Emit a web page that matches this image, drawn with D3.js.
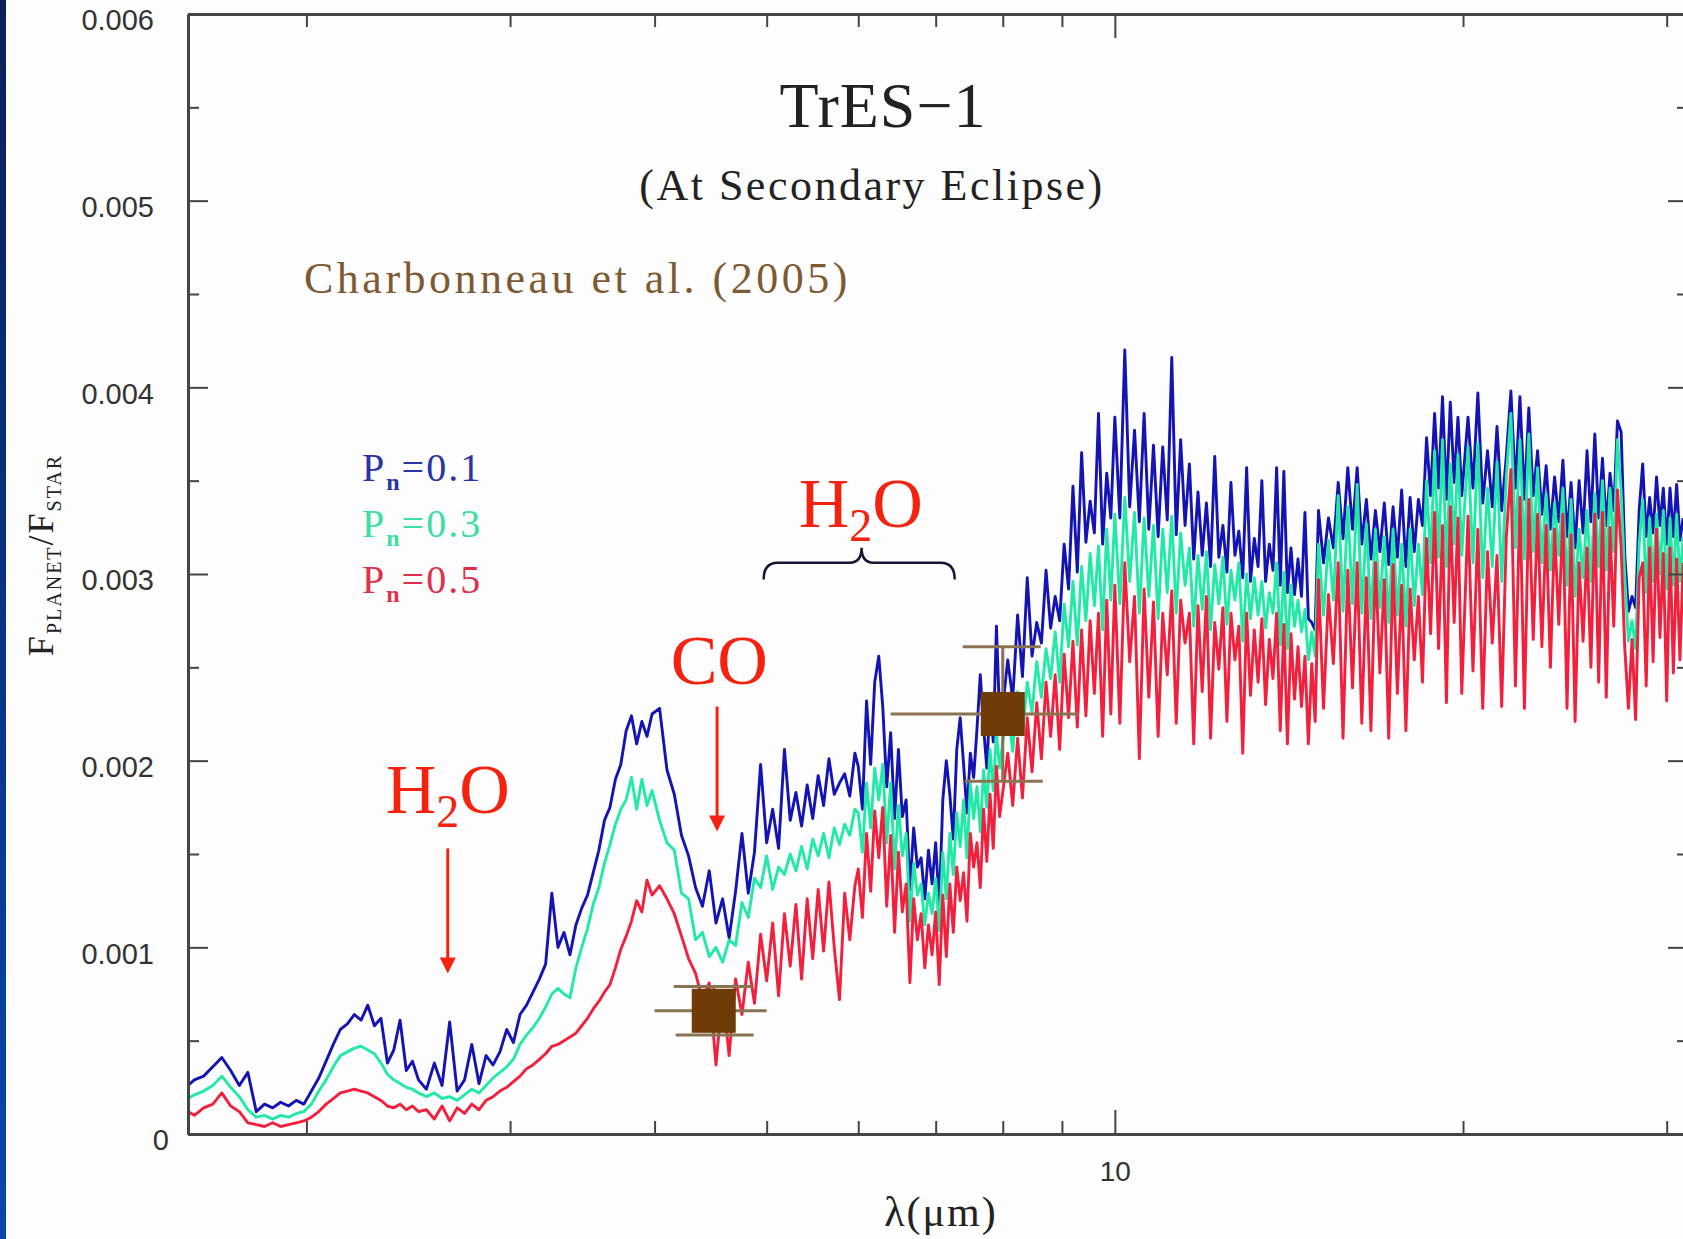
<!DOCTYPE html>
<html>
<head>
<meta charset="utf-8">
<script src="https://cdnjs.cloudflare.com/ajax/libs/d3/7.8.5/d3.min.js"></script>
<style>
  html, body { margin: 0; padding: 0; background: #fdfdfd; }
  svg { display: block; }
</style>
</head>
<body>
<div id="chart"></div>
<script>
// Model spectra, TrES-1 at secondary eclipse (flux ratio in units of 1e-4)
const wavelength = [
  // 1.58 - 2.50
  1.58, 1.60, 1.63, 1.66, 1.69, 1.72, 1.75, 1.78, 1.81, 1.84, 1.87, 1.90, 1.93, 1.96, 1.99, 2.02,
  2.05, 2.08, 2.11, 2.14, 2.17, 2.20, 2.23, 2.26, 2.29, 2.32, 2.35, 2.38, 2.41, 2.44, 2.47, 2.50,
  // 2.54 - 3.98
  2.54, 2.58, 2.62, 2.66, 2.70, 2.74, 2.78, 2.82, 2.86, 2.90, 2.94, 2.98, 3.02, 3.06, 3.10, 3.14,
  3.18, 3.22, 3.26, 3.30, 3.34, 3.38, 3.42, 3.46, 3.50, 3.54, 3.58, 3.62, 3.66, 3.70, 3.74, 3.78,
  3.82, 3.86, 3.90, 3.94, 3.98,
  // 4.04 - 5.96
  4.04, 4.10, 4.16, 4.22, 4.28, 4.34, 4.40, 4.46, 4.52, 4.58, 4.64, 4.70, 4.76, 4.82, 4.88, 4.94,
  5.00, 5.06, 5.12, 5.18, 5.24, 5.30, 5.36, 5.42, 5.48, 5.54, 5.60, 5.66, 5.72, 5.78, 5.84, 5.90, 5.96,
  // 6.00 - 7.95
  6.00, 6.05, 6.10, 6.15, 6.20, 6.25, 6.30, 6.35, 6.40, 6.45,
  6.50, 6.55, 6.60, 6.65, 6.70, 6.75, 6.80, 6.85, 6.90, 6.95,
  7.00, 7.05, 7.10, 7.15, 7.20, 7.25, 7.30, 7.35, 7.40, 7.45,
  7.50, 7.55, 7.60, 7.65, 7.70, 7.75, 7.80, 7.85, 7.90, 7.95,
  // 8.00 - 9.92
  8.00, 8.08, 8.16, 8.24, 8.32, 8.40, 8.48, 8.56, 8.64, 8.72,
  8.80, 8.88, 8.96, 9.04, 9.12, 9.20, 9.28, 9.36, 9.44, 9.52,
  9.60, 9.68, 9.76, 9.84, 9.92,
  // 10.0 - 14.9
  10.0, 10.1, 10.2, 10.3, 10.4, 10.5, 10.6, 10.7, 10.8, 10.9,
  11.0, 11.1, 11.2, 11.3, 11.4, 11.5, 11.6, 11.7, 11.8, 11.9,
  12.0, 12.1, 12.2, 12.3, 12.4, 12.5, 12.6, 12.7, 12.8, 12.9,
  13.0, 13.1, 13.2, 13.3, 13.4, 13.5, 13.6, 13.7, 13.8, 13.9,
  14.0, 14.1, 14.2, 14.3, 14.4, 14.5, 14.6, 14.7, 14.8, 14.9,
  // 15.0 - 19.95
  15.00, 15.15, 15.30, 15.45, 15.60, 15.75, 15.90, 16.05, 16.20, 16.35,
  16.50, 16.65, 16.80, 16.95, 17.10, 17.25, 17.40, 17.55, 17.70, 17.85,
  18.00, 18.15, 18.30, 18.45, 18.60, 18.75, 18.90, 19.05, 19.20, 19.35,
  19.50, 19.65, 19.80, 19.95,
  // 20.2 - 31.0
  20.2, 20.4, 20.6, 20.8, 21.0, 21.2, 21.4, 21.6, 21.8, 22.0,
  22.2, 22.4, 22.6, 22.8, 23.0, 23.2, 23.4, 23.6, 23.8, 24.0,
  24.2, 24.4, 24.6, 24.8, 25.0, 25.2, 25.4, 25.6, 25.8, 26.0,
  26.2, 26.4, 26.6, 26.8, 27.0, 27.2, 27.4, 27.6, 27.8, 28.0,
  28.2, 28.4, 28.6, 28.8, 29.0, 29.2, 29.4, 29.6, 29.8, 30.0,
  30.2, 30.4, 30.6, 30.8, 31.0
];

const fluxPn01 = [
  2.6, 2.9, 3.1, 3.6, 4.1, 3.4, 2.6, 3.3, 1.2, 1.6, 1.4, 1.7, 1.5, 1.8, 1.6, 2.3,
  3.0, 3.9, 4.8, 5.6, 5.9, 6.4, 6.1, 6.9, 5.8, 6.2, 3.8, 4.5, 6.1, 3.4, 3.9, 2.9,
  2.4, 3.8, 2.6, 6.0, 2.3, 2.9, 4.8, 2.7, 4.2, 3.7, 4.4, 5.6, 4.9, 6.4, 6.9, 7.6,
  8.3, 9.1, 12.9, 10.0, 10.8, 9.6, 11.2, 12.1, 12.8, 14.0, 15.2, 16.8, 17.5, 19.0, 19.8, 21.6,
  22.4, 20.9, 22.1, 21.3, 22.5,
  22.8, 19.5, 18.2, 16.0, 14.9, 13.2, 12.2, 14.1, 11.3, 12.6, 10.5, 13.0, 16.1, 12.9, 15.1, 19.8,
  15.6, 17.4, 15.3, 20.6, 16.8, 18.3, 16.5, 18.7, 16.9, 19.2, 17.6, 20.1, 18.2, 18.8, 19.3, 18.1, 20.4,
  19.7, 17.4, 23.2, 19.8, 24.2, 25.6, 22.9, 18.6, 21.5, 16.9,
  20.6, 17.0, 17.9, 13.1, 16.4, 14.3, 14.8, 12.6, 15.2, 13.4,
  15.6, 12.2, 17.9, 20.0, 18.2, 15.8, 20.6, 22.3, 19.8, 17.2,
  20.4, 19.1, 21.7, 24.6, 21.8, 19.6, 23.2, 21.0, 27.2, 22.4,
  22.9, 25.4, 23.3, 27.8, 24.5, 29.8, 25.6, 27.4, 26.3, 30.2,
  27.1, 28.8, 27.5, 31.6, 29.2, 34.7, 30.1, 36.5, 31.7, 33.9,
  32.2, 38.6, 31.6, 35.4, 33.0,
  38.4, 33.0, 42.0, 33.6, 37.7, 32.8, 38.6, 32.4, 36.9, 32.0,
  36.8, 32.9, 41.6, 32.1, 37.2, 32.6, 35.9, 30.8, 34.4, 31.0,
  33.8, 30.4, 36.3, 30.9, 32.6, 30.1, 34.9, 31.0, 32.3, 29.8,
  35.7, 29.6, 31.9, 30.4, 35.0, 29.6, 31.6, 30.2, 35.7, 29.4,
  35.5, 29.0, 31.4, 28.9, 30.8, 28.8, 33.3, 27.6, 27.4, 27.0,
  33.4, 30.6, 33.0, 31.4, 34.9, 31.9, 35.7, 32.4, 35.7, 31.6,
  34.0, 30.8, 33.4, 31.2, 33.8, 30.5, 33.6, 30.9, 34.5, 30.4,
  34.1, 31.2, 34.0, 32.6, 37.3, 34.2, 38.6, 34.6, 39.5, 34.0,
  39.2, 34.9, 38.4, 34.2,
  38.4, 34.6, 39.7, 33.8, 36.6, 33.6, 37.9, 33.4, 36.3, 39.8,
  34.6, 39.5, 34.0, 38.9, 34.2, 36.6, 33.2, 35.8, 32.4, 35.2,
  32.8, 36.1, 32.0, 34.9, 31.4, 35.0, 32.2, 36.6, 32.8, 37.5,
  33.0, 36.2, 32.6, 35.4, 33.4, 38.2, 37.6, 31.0, 28.0, 28.8,
  28.2, 33.4, 35.9, 32.0, 34.1, 32.2, 35.2, 32.6, 34.6, 31.6,
  34.6, 32.0, 34.8, 31.8, 33.0
];

const fluxPn03 = [
  1.9, 2.1, 2.3, 2.6, 3.1, 2.5, 2.0, 1.3, 0.9, 1.0, 0.8, 1.0, 0.9, 1.1, 1.2, 1.6,
  2.3, 2.9, 3.6, 4.2, 4.4, 4.6, 4.7, 4.5, 4.3, 3.8, 3.2, 2.9, 2.7, 2.5, 2.4, 2.2,
  2.0, 2.2, 1.9, 2.0, 1.8, 2.1, 2.4, 2.2, 2.6, 3.0, 3.3, 3.6, 4.0, 4.8, 5.3, 5.7,
  6.2, 6.8, 7.5, 7.8, 7.5, 7.3, 8.9, 10.0, 11.0, 12.3, 13.2, 14.5, 15.5, 16.6, 17.4, 17.9,
  19.1, 17.4, 19.0, 17.6, 18.4,
  16.8, 15.6, 15.2, 12.9, 12.6, 10.4, 10.8, 9.5, 10.0, 9.2, 10.4, 10.1, 12.4, 11.6, 13.7, 13.2,
  14.9, 13.1, 14.3, 13.9, 15.0, 14.1, 15.4, 14.2, 15.8, 14.9, 16.1, 14.8, 16.4, 15.5, 16.6, 16.0, 17.4,
  17.2, 15.1, 18.8, 16.4, 19.6, 17.9, 19.8, 15.6, 18.8, 14.2,
  17.6, 14.9, 16.1, 11.4, 14.5, 12.8, 13.4, 11.2, 12.9, 11.8,
  13.7, 10.9, 15.1, 12.6, 16.1, 13.9, 17.2, 15.4, 17.9, 14.8,
  18.8, 16.9, 18.6, 16.2, 19.5, 17.5, 20.6, 18.4, 21.5, 19.6,
  21.0, 22.8, 20.5, 23.7, 21.4, 24.2, 22.6, 25.3, 23.4, 26.0,
  24.4, 26.9, 24.2, 28.4, 26.1, 29.6, 26.2, 30.4, 27.5, 31.1,
  28.3, 31.5, 27.0, 32.4, 28.6,
  33.2, 28.4, 34.1, 29.6, 33.3, 27.9, 33.0, 28.8, 32.6, 27.6,
  32.4, 29.0, 33.1, 27.9, 32.2, 29.4, 31.4, 27.2, 31.0, 28.1,
  31.2, 27.0, 30.5, 28.4, 30.9, 27.3, 30.2, 28.6, 30.6, 26.4,
  30.0, 27.6, 29.8, 27.8, 29.6, 27.1, 29.0, 27.9, 30.6, 26.2,
  30.1, 26.0, 29.4, 27.2, 28.6, 26.9, 28.1, 25.4, 26.9, 25.6,
  31.6, 27.8, 31.8, 28.6, 34.2, 28.0, 33.6, 28.4, 34.8, 27.9,
  32.7, 27.6, 32.4, 28.2, 32.0, 27.4, 32.4, 27.8, 31.6, 27.2,
  32.4, 28.3, 31.6, 28.9, 35.0, 30.6, 36.6, 30.9, 37.2, 30.4,
  35.9, 31.6, 36.4, 31.0,
  36.8, 30.6, 37.0, 29.8, 34.6, 30.4, 36.0, 29.6, 35.2, 38.6,
  31.4, 37.2, 30.8, 37.5, 31.2, 35.7, 30.6, 34.3, 30.2, 33.8,
  31.0, 34.6, 29.4, 34.0, 28.8, 32.4, 29.8, 33.4, 29.6, 34.3,
  30.4, 35.0, 30.2, 34.6, 31.2, 37.2, 34.4, 29.8, 26.4, 27.5,
  26.0, 31.6, 34.0, 29.0, 33.0, 29.6, 33.2, 30.0, 33.4, 29.2,
  33.0, 29.4, 33.2, 29.6, 32.0
];

const fluxPn05 = [
  1.2, 1.0, 1.4, 1.6, 2.2, 1.5, 1.2, 0.6, 0.5, 0.4, 0.6, 0.4, 0.5, 0.6, 0.7, 0.9,
  1.2, 1.6, 1.9, 2.2, 2.3, 2.4, 2.3, 2.2, 2.0, 1.8, 1.5, 1.4, 1.6, 1.3, 1.5, 1.2,
  1.3, 0.8, 1.5, 0.7, 1.4, 1.1, 1.6, 1.3, 1.8, 2.0, 2.3, 2.5, 2.8, 3.1, 3.5, 3.7,
  4.0, 4.3, 4.7, 4.8, 5.0, 5.2, 5.4, 5.8, 6.2, 6.7, 7.1, 7.6, 8.0, 8.9, 9.9, 10.6,
  11.4, 12.5, 11.9, 13.6, 12.8,
  13.3, 12.6, 11.8, 10.6, 9.4, 8.6, 7.2, 8.1, 3.7, 7.6, 4.2, 8.3, 6.4, 9.2, 7.0, 10.7,
  8.2, 11.3, 7.4, 11.8, 9.0, 12.3, 8.3, 12.6, 9.4, 13.1, 9.8, 13.5, 10.0, 7.2, 12.9, 10.4, 13.3,
  14.2, 11.6, 16.1, 13.0, 17.3, 14.8, 17.5, 12.2, 16.0, 10.8,
  15.1, 11.9, 13.4, 8.1, 12.6, 10.4, 11.8, 8.9, 11.2, 9.6,
  11.9, 8.0, 12.8, 9.5, 13.4, 10.8, 14.3, 12.5, 14.0, 11.4,
  16.1, 14.3, 15.6, 13.2, 17.4, 14.6, 18.2, 15.3, 19.7, 17.0,
  18.3, 20.4, 17.6, 21.2, 18.0, 22.3, 19.4, 23.1, 20.1, 24.2,
  21.3, 24.6, 20.6, 25.7, 22.3, 26.4, 21.8, 27.0, 22.4, 27.5,
  23.6, 27.9, 21.3, 28.6, 22.5,
  29.4, 22.0, 30.6, 25.3, 28.8, 20.1, 29.2, 23.4, 28.5, 21.3,
  27.9, 24.6, 29.1, 22.0, 28.6, 26.3, 27.9, 20.9, 28.3, 23.7,
  28.8, 21.2, 27.4, 24.9, 28.2, 22.1, 27.9, 25.4, 27.2, 20.4,
  27.9, 23.5, 27.0, 24.2, 27.6, 23.0, 26.5, 24.4, 27.9, 21.6,
  27.3, 20.9, 26.8, 23.3, 26.1, 22.9, 25.6, 20.9, 25.2, 22.1,
  29.7, 22.8, 28.9, 25.2, 30.6, 21.2, 30.2, 23.9, 30.6, 22.0,
  29.8, 21.6, 30.6, 24.7, 29.7, 21.2, 30.5, 23.6, 29.4, 21.6,
  29.2, 25.4, 28.8, 24.2, 31.9, 26.8, 33.3, 26.0, 32.6, 23.1,
  33.6, 27.4, 33.0, 23.6,
  33.1, 24.8, 32.4, 22.8, 31.2, 26.3, 31.0, 22.9, 32.0, 35.6,
  24.0, 34.1, 22.8, 34.0, 26.5, 33.2, 26.1, 32.6, 25.0, 32.4,
  27.3, 33.2, 22.8, 32.1, 22.1, 30.6, 26.4, 31.4, 25.0, 33.2,
  24.2, 33.3, 23.4, 32.5, 27.2, 34.5, 31.4, 26.0, 22.8, 26.5,
  22.2, 29.8, 30.6, 24.0, 31.4, 25.3, 32.4, 26.6, 31.1, 23.2,
  31.4, 24.7, 30.8, 25.4, 30.6
];

const seriesLabels = ["0.1", "0.3", "0.5"];

// Spitzer IRAC eclipse depths, Charbonneau et al. (2005)
const obsWavelength = [4.5, 8.0];
const obsRatio = [6.6, 22.5];
const obsError = [1.3, 3.6];
const obsBandLow = [4.0, 6.4];
const obsBandHigh = [5.0, 9.3];

const yTickValues = [0, 10, 20, 30, 40, 50, 60];
const yTickLabels = ["0", "0.001", "0.002", "0.003", "0.004", "0.005", "0.006"];
const yMinorValues = [5, 15, 25, 35, 45, 55];
const xMinorValues = [2, 3, 4, 5, 6, 7, 8, 9, 20, 30];
const xMajorValues = [10];

// Chart dimensions
const width = 1683;
const height = 1239;

const x = d3.scaleLog().domain([1.58, 31.3]).range([188, 1688]);
const y = d3.scaleLinear().domain([0, 60]).range([1134, 14]);

const lineColors = ["#1414b4", "#22eaa6", "#f2203c"];
const legendColors = ["#2a34a4", "#3fdca4", "#e0304c"];
const annoRed = "#f4220e";
const serif = "'Liberation Serif', 'DejaVu Serif', serif";
const sans = "'Liberation Sans', Arial, sans-serif";

const svg = d3.select('#chart')
    .append('svg')
    .attr('width', width)
    .attr('height', height);

svg.append('rect')
    .attr('width', width)
    .attr('height', height)
    .attr('fill', '#fdfdfd');

// Blue slide edge on the left
const grad = svg.append('defs').append('linearGradient')
    .attr('id', 'edge')
    .attr('x1', 0).attr('y1', 0).attr('x2', 0).attr('y2', 1);
grad.append('stop').attr('offset', '0%').attr('stop-color', '#0b1f5a');
grad.append('stop').attr('offset', '100%').attr('stop-color', '#0847ae');
svg.append('rect')
    .attr('x', 0).attr('y', 0)
    .attr('width', 6).attr('height', height)
    .attr('fill', 'url(#edge)');

// Spectra: Pn=0.1 underneath, Pn=0.5 on top
const line = d3.line()
    .x(d => x(d.w))
    .y(d => y(d.v));

[fluxPn01, fluxPn03, fluxPn05].forEach((series, k) => {
    const pts = series.map((v, i) => ({ w: wavelength[i], v: v }));
    svg.append('path')
        .datum(pts)
        .attr('fill', 'none')
        .attr('stroke', lineColors[k])
        .attr('stroke-width', 2.9)
        .attr('stroke-linejoin', 'round')
        .attr('d', line);
});

// Axes (frame on all four sides, ticks pointing inward)
function styleAxis(g) {
    g.select('.domain').attr('stroke', '#444').attr('stroke-width', 2.8);
    g.selectAll('.tick line').attr('stroke', '#444').attr('stroke-width', 2);
}

const bottomMinor = svg.append('g')
    .attr('transform', `translate(0,${y(0)})`)
    .call(d3.axisBottom(x).tickValues(xMinorValues).tickSizeInner(-13).tickSizeOuter(0).tickFormat(''));
styleAxis(bottomMinor);

const bottomMajor = svg.append('g')
    .attr('transform', `translate(0,${y(0)})`)
    .call(d3.axisBottom(x).tickValues(xMajorValues).tickSizeInner(-24).tickSizeOuter(0)
        .tickPadding(27).tickFormat(d3.format('d')));
styleAxis(bottomMajor);
bottomMajor.selectAll('text')
    .attr('font-family', sans)
    .attr('font-size', 28)
    .attr('fill', '#333');

const topMinor = svg.append('g')
    .attr('transform', `translate(0,${y(60)})`)
    .call(d3.axisTop(x).tickValues(xMinorValues).tickSizeInner(-13).tickSizeOuter(0).tickFormat(''));
styleAxis(topMinor);
const topMajor = svg.append('g')
    .attr('transform', `translate(0,${y(60)})`)
    .call(d3.axisTop(x).tickValues(xMajorValues).tickSizeInner(-24).tickSizeOuter(0).tickFormat(''));
styleAxis(topMajor);

const leftMajor = svg.append('g')
    .attr('transform', `translate(${x.range()[0]},0)`)
    .call(d3.axisLeft(y).tickValues(yTickValues).tickSizeInner(-20).tickSizeOuter(0)
        .tickPadding(34).tickFormat((d, i) => yTickLabels[i]));
styleAxis(leftMajor);
leftMajor.selectAll('text')
    .attr('font-family', sans)
    .attr('font-size', 29)
    .attr('fill', '#333')
    .attr('dy', '0.55em');
// the zero label sits a little further right in the original
leftMajor.selectAll('text').filter(d => d === 0).attr('dx', 15);

const leftMinor = svg.append('g')
    .attr('transform', `translate(${x.range()[0]},0)`)
    .call(d3.axisLeft(y).tickValues(yMinorValues).tickSizeInner(-11).tickSizeOuter(0).tickFormat(''));
styleAxis(leftMinor);

const rightMajor = svg.append('g')
    .attr('transform', `translate(${x.range()[1]},0)`)
    .call(d3.axisRight(y).tickValues(yTickValues).tickSizeInner(-20).tickSizeOuter(0).tickFormat(''));
styleAxis(rightMajor);
const rightMinor = svg.append('g')
    .attr('transform', `translate(${x.range()[1]},0)`)
    .call(d3.axisRight(y).tickValues(yMinorValues).tickSizeInner(-11).tickSizeOuter(0).tickFormat(''));
styleAxis(rightMinor);

// Observed points with bandwidth and error bars
const obs = obsWavelength.map((w, i) => ({
    w: w, v: obsRatio[i], e: obsError[i], lo: obsBandLow[i], hi: obsBandHigh[i]
}));
const barColor = '#8a7350';
const obsG = svg.append('g');
obsG.selectAll('.band').data(obs).enter().append('line')
    .attr('x1', d => x(d.lo)).attr('x2', d => x(d.hi))
    .attr('y1', d => y(d.v)).attr('y2', d => y(d.v))
    .attr('stroke', barColor).attr('stroke-width', 3);
obsG.selectAll('.vbar').data(obs).enter().append('line')
    .attr('x1', d => x(d.w)).attr('x2', d => x(d.w))
    .attr('y1', d => y(d.v + d.e)).attr('y2', d => y(d.v - d.e))
    .attr('stroke', barColor).attr('stroke-width', 3);
obsG.selectAll('.capHi').data(obs).enter().append('line')
    .attr('x1', d => x(d.w) - 40).attr('x2', d => x(d.w) + 38)
    .attr('y1', d => y(d.v + d.e)).attr('y2', d => y(d.v + d.e))
    .attr('stroke', barColor).attr('stroke-width', 3);
obsG.selectAll('.capLo').data(obs).enter().append('line')
    .attr('x1', d => x(d.w) - 38).attr('x2', d => x(d.w) + 40)
    .attr('y1', d => y(d.v - d.e)).attr('y2', d => y(d.v - d.e))
    .attr('stroke', barColor).attr('stroke-width', 3);
obsG.selectAll('rect').data(obs).enter().append('rect')
    .attr('x', d => x(d.w) - 22).attr('y', d => y(d.v) - 22)
    .attr('width', 44).attr('height', 44)
    .attr('fill', '#6f3c08');

// Titles
svg.append('text')
    .attr('x', 883).attr('y', 127)
    .attr('text-anchor', 'middle')
    .attr('font-family', serif).attr('font-size', 64)
    .attr('letter-spacing', 1)
    .attr('fill', '#222')
    .text('TrES\u22121');

svg.append('text')
    .attr('x', 872).attr('y', 200)
    .attr('text-anchor', 'middle')
    .attr('font-family', serif).attr('font-size', 44)
    .attr('letter-spacing', 2.5)
    .attr('fill', '#222')
    .text('(At Secondary Eclipse)');

svg.append('text')
    .attr('x', 304).attr('y', 293)
    .attr('font-family', serif).attr('font-size', 44)
    .attr('letter-spacing', 3.5)
    .attr('fill', '#7d5a33')
    .text('Charbonneau et al. (2005)');

// Legend
seriesLabels.forEach((lab, k) => {
    const t = svg.append('text')
        .attr('x', 362).attr('y', 481 + k * 56)
        .attr('font-family', serif).attr('font-size', 40)
        .attr('letter-spacing', 2)
        .attr('fill', legendColors[k]);
    t.append('tspan').text('P');
    t.append('tspan').attr('font-size', 24).attr('font-weight', 'bold').attr('dy', 9).text('n');
    t.append('tspan').attr('dy', -9).text('=' + lab);
});

// Axis titles
const yLab = svg.append('text')
    .attr('transform', 'translate(53,555) rotate(-90)')
    .attr('text-anchor', 'middle')
    .attr('font-family', serif).attr('font-size', 36)
    .attr('letter-spacing', 2)
    .attr('fill', '#222');
yLab.append('tspan').text('F');
yLab.append('tspan').attr('font-size', 20).attr('dy', 8).text('PLANET');
yLab.append('tspan').attr('dy', -8).text('/F');
yLab.append('tspan').attr('font-size', 20).attr('dy', 8).text('STAR');

svg.append('text')
    .attr('x', 941).attr('y', 1226)
    .attr('text-anchor', 'middle')
    .attr('font-family', serif).attr('font-size', 42)
    .attr('letter-spacing', 2)
    .attr('fill', '#222')
    .text('\u03bb(\u03bcm)');

// Molecular band annotations
function molecule(w, v, parts) {
    const t = svg.append('text')
        .attr('x', x(w)).attr('y', y(v))
        .attr('text-anchor', 'middle')
        .attr('font-family', serif).attr('font-size', 70)
        .attr('fill', annoRed);
    parts.forEach(p => {
        const s = t.append('tspan').text(p.t);
        if (p.sub) s.attr('font-size', 46).attr('dy', 14);
        if (p.up) s.attr('dy', -14);
    });
}
molecule(2.65, 17.2, [{ t: 'H' }, { t: '2', sub: true }, { t: 'O', up: true }]);
molecule(4.55, 24.1, [{ t: 'CO' }]);
molecule(6.03, 32.5, [{ t: 'H' }, { t: '2', sub: true }, { t: 'O', up: true }]);

function arrow(w, vFrom, vTo) {
    const ax = x(w);
    svg.append('line')
        .attr('x1', ax).attr('x2', ax)
        .attr('y1', y(vFrom)).attr('y2', y(vTo) - 12)
        .attr('stroke', annoRed).attr('stroke-width', 3);
    svg.append('path')
        .attr('d', `M${ax - 8},${y(vTo) - 16} L${ax + 8},${y(vTo) - 16} L${ax},${y(vTo)} Z`)
        .attr('fill', annoRed);
}
arrow(2.65, 15.3, 8.6);
arrow(4.53, 22.9, 16.2);

// Brace over the 5-7 micron water band
const bL = x(4.97), bR = x(7.27), bM = x(6.04);
const yEnd = y(29.7), yBar = y(30.6), yTip = y(31.4);
svg.append('path')
    .attr('d', `M${bL},${yEnd} Q${bL},${yBar} ${bL + 14},${yBar} L${bM - 12},${yBar} ` +
               `Q${bM},${yBar} ${bM},${yTip} Q${bM},${yBar} ${bM + 12},${yBar} ` +
               `L${bR - 14},${yBar} Q${bR},${yBar} ${bR},${yEnd}`)
    .attr('fill', 'none')
    .attr('stroke', '#151535')
    .attr('stroke-width', 2.5);
</script>
</body>
</html>
